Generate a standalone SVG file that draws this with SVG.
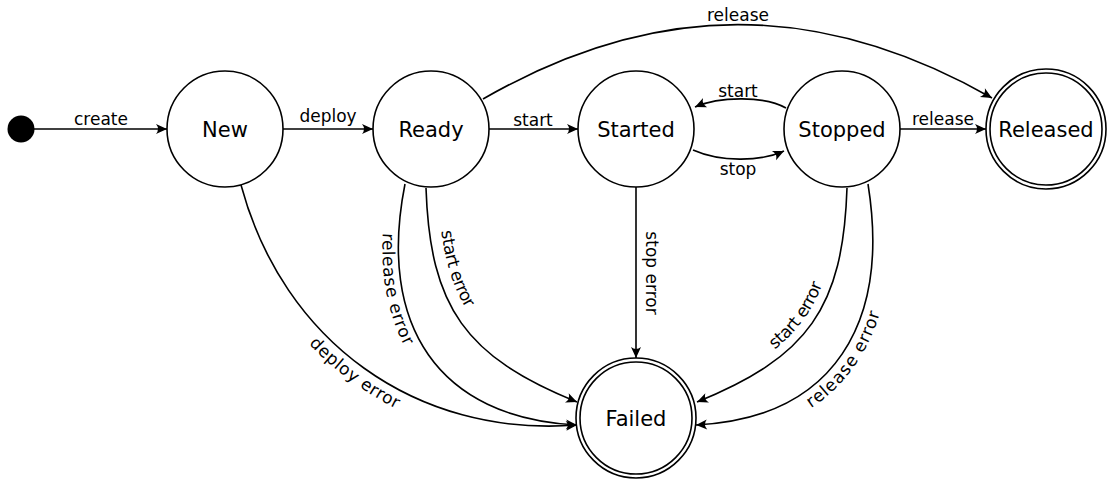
<svg xmlns="http://www.w3.org/2000/svg" xmlns:xlink="http://www.w3.org/1999/xlink" width="1107" height="480" viewBox="0 0 1107 480">
<style>
.st{fill:#fff;stroke:#000;stroke-width:1.6}
.nl{font-family:"DejaVu Sans",sans-serif;font-size:21px;fill:#000;text-anchor:middle}
.el{font-family:"DejaVu Sans",sans-serif;font-size:17px;fill:#000;text-anchor:middle}
.ed{fill:none;stroke:#000;stroke-width:1.6;marker-end:url(#arr)}
</style>
<defs>
<marker id="arr" markerUnits="userSpaceOnUse" markerWidth="14" markerHeight="12" viewBox="-12 -6 14 12" refX="0" refY="0" orient="auto">
<path d="M0,0 L-11,-5 Q-7,0 -11,5 Z" fill="#000"/>
</marker>
<path id="rp1" d="M697,402 C808,357 843,308 847,188"/>
<path id="rp2" d="M696,425 C835,418 890,322 868,184"/>
</defs>
<g id="connectors">
<path class="ed" d="M34,129 L167,129"/>
<path class="ed" d="M283,129 L373,129"/>
<path class="ed" d="M489,129 L578,129"/>
<path class="ed" d="M900,129 L986,129"/>
<path class="ed" d="M636,187 L636,358"/>
<path class="ed" d="M693,150 C720,162 760,162 784,151"/>
<path class="ed" d="M786,108 C765,96 720,96 695,107"/>
<path class="ed" d="M483,99 C655,0 820,0 992,98"/>
<path id="p-deploy" class="ed" d="M241,185 C283,341 415.5,437.7 577,425"/>
<path id="p-rrel" class="ed" d="M405,184 C377,325 438,418 577,425"/>
<path id="p-rst" class="ed" d="M426,188 C430,308 466,357 577,402"/>
<path class="ed" d="M847,188 C843,308 808,357 697,402"/>
<path class="ed" d="M868,184 C890,322 835,418 696,425"/>
<text class="el" x="101" y="125">create</text>
<text class="el" x="328" y="122">deploy</text>
<text class="el" x="533" y="126">start</text>
<text class="el" x="738" y="97">start</text>
<text class="el" x="738" y="175">stop</text>
<text class="el" x="943" y="125">release</text>
<text class="el" x="738" y="21">release</text>
<text class="el" transform="translate(646,273) rotate(90)">stop error</text>
<text class="el" dy="18"><textPath xlink:href="#p-deploy" startOffset="49%">deploy error</textPath></text>
<text class="el" dy="16"><textPath xlink:href="#p-rrel" startOffset="30%">release error</textPath></text>
<text class="el" dy="-12"><textPath xlink:href="#p-rst" startOffset="31%">start error</textPath></text>
<text class="el" dy="-9"><textPath xlink:href="#rp1" startOffset="49%">start error</textPath></text>
<text class="el" dy="17"><textPath xlink:href="#rp2" startOffset="48%">release error</textPath></text>
</g>
<g id="init"><circle cx="21" cy="129" r="13.5" fill="#000"/></g>
<g id="new"><circle class="st" cx="225" cy="129" r="58"/><text class="nl" x="225" y="137">New</text></g>
<g id="ready"><circle class="st" cx="431" cy="129" r="58"/><text class="nl" x="431" y="137">Ready</text></g>
<g id="started"><circle class="st" cx="636" cy="129" r="58"/><text class="nl" x="636" y="137">Started</text></g>
<g id="stopped"><circle class="st" cx="842" cy="129" r="58"/><text class="nl" x="842" y="137">Stopped</text></g>
<g id="released"><circle class="st" cx="1046" cy="129" r="60"/><circle class="st" cx="1046" cy="129" r="56"/><text class="nl" x="1046" y="137">Released</text></g>
<g id="failed"><circle class="st" cx="636" cy="418" r="60"/><circle class="st" cx="636" cy="418" r="56"/><text class="nl" x="636" y="426">Failed</text></g>
</svg>
